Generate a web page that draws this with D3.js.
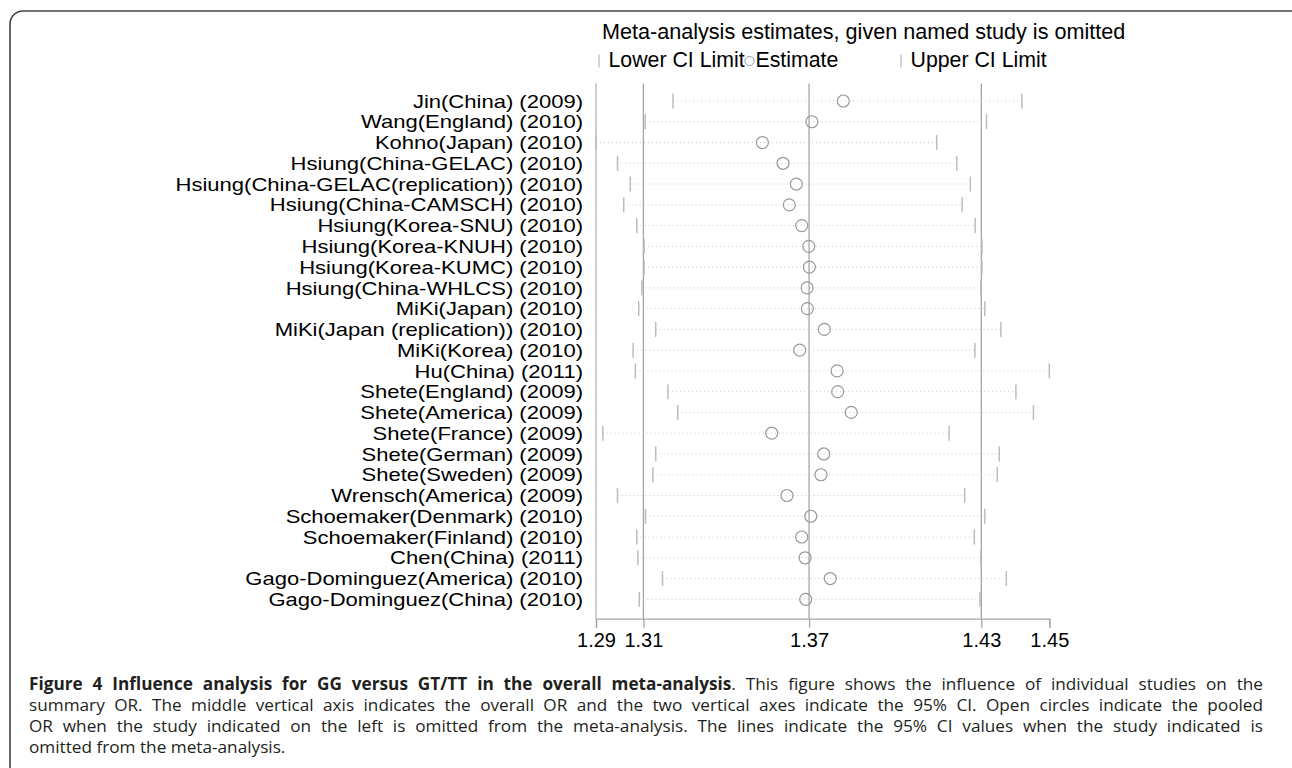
<!DOCTYPE html>
<html>
<head>
<meta charset="utf-8">
<script src="https://cdn.jsdelivr.net/npm/d3@7"></script>
<style>
body { margin: 0; background: #fff; }
svg { display: block; }
</style>
</head>
<body>
<script>
// DATA
const studies = [
	"Jin(China) (2009)",
	"Wang(England) (2010)",
	"Kohno(Japan) (2010)",
	"Hsiung(China-GELAC) (2010)",
	"Hsiung(China-GELAC(replication)) (2010)",
	"Hsiung(China-CAMSCH) (2010)",
	"Hsiung(Korea-SNU) (2010)",
	"Hsiung(Korea-KNUH) (2010)",
	"Hsiung(Korea-KUMC) (2010)",
	"Hsiung(China-WHLCS) (2010)",
	"MiKi(Japan) (2010)",
	"MiKi(Japan (replication)) (2010)",
	"MiKi(Korea) (2010)",
	"Hu(China) (2011)",
	"Shete(England) (2009)",
	"Shete(America) (2009)",
	"Shete(France) (2009)",
	"Shete(German) (2009)",
	"Shete(Sweden) (2009)",
	"Wrensch(America) (2009)",
	"Schoemaker(Denmark) (2010)",
	"Schoemaker(Finland) (2010)",
	"Chen(China) (2011)",
	"Gago-Dominguez(America) (2010)",
	"Gago-Dominguez(China) (2010)"
];
const lower = [1.3219, 1.3121, 1.2947, 1.3023, 1.3068, 1.3045, 1.3091, 1.3117, 1.3117, 1.3109,
	1.3098, 1.3158, 1.3078, 1.3086, 1.3201, 1.3236, 1.2971, 1.3158, 1.3148, 1.3023,
	1.3122, 1.3091, 1.3095, 1.3182, 1.3100];
const estimate = [1.3821, 1.3710, 1.3535, 1.3608, 1.3655, 1.3630, 1.3674, 1.3699, 1.3701, 1.3693,
	1.3694, 1.3754, 1.3667, 1.3799, 1.3801, 1.3849, 1.3568, 1.3752, 1.3742, 1.3622,
	1.3706, 1.3674, 1.3686, 1.3775, 1.3688];
const upper = [1.4452, 1.4327, 1.4151, 1.4222, 1.4270, 1.4241, 1.4287, 1.4311, 1.4311, 1.4307,
	1.4321, 1.4378, 1.4286, 1.4549, 1.4431, 1.4493, 1.4195, 1.4372, 1.4365, 1.4250,
	1.4321, 1.4284, 1.4307, 1.4397, 1.4304];

// overall OR with its 95% CI
const pooled = [1.31145, 1.37, 1.43088];
const tickValues = [1.2947, 1.31145, 1.37, 1.43088, 1.4549];

const title = "Meta-analysis estimates, given named study is omitted";
const legendLabels = ["Lower CI Limit", "Estimate", "Upper CI Limit"];

const captionLines = [
	[{ t: "Figure 4 Influence analysis for GG versus GT/TT in the overall meta-analysis", bold: true },
	 { t: ". This figure shows the influence of individual studies on the" }],
	[{ t: "summary OR. The middle vertical axis indicates the overall OR and the two vertical axes indicate the 95% CI. Open circles indicate the pooled" }],
	[{ t: "OR when the study indicated on the left is omitted from the meta-analysis. The lines indicate the 95% CI values when the study indicated is" }],
	[{ t: "omitted from the meta-analysis." }]
];

// SETUP
const width = 1292, height = 768;
const stataFont = "'Liberation Sans', Arial, Helvetica, sans-serif";

var svg = d3.select('body').append('svg')
	.attr('width', width)
	.attr('height', height);

// frame with rounded corner
svg.append('path')
	.attr('d', 'M10,775V24A13,13 0 0 1 23,11H1300')
	.attr('fill', 'none')
	.attr('stroke', '#444')
	.attr('stroke-width', 1.6);

var plotTop = 83.5, plotBottom = 618.7;

var x = d3.scaleLinear()
	.domain(d3.extent(lower.concat(upper)))
	.range([596, 1049.3]);

var y = d3.scalePoint()
	.domain(studies)
	.range([101, 599.3]);

var rows = studies.map((s, i) => ({ study: s, lo: lower[i], est: estimate[i], hi: upper[i] }));

// left axis line
svg.append('line')
	.attr('x1', x.range()[0]).attr('x2', x.range()[0])
	.attr('y1', plotTop).attr('y2', plotBottom)
	.attr('stroke', '#b4b4b4')
	.attr('stroke-width', 1.3);

// reference lines: pooled CI and estimate
svg.append('g').selectAll('line')
	.data(pooled)
	.join('line')
	.attr('x1', d => x(d)).attr('x2', d => x(d))
	.attr('y1', plotTop).attr('y2', plotBottom)
	.attr('stroke', '#a6a6a6')
	.attr('stroke-width', 1.3);

// x axis
var axis = svg.append('g')
	.attr('transform', `translate(0,${plotBottom})`)
	.call(d3.axisBottom(x)
		.tickValues(tickValues)
		.tickFormat(d3.format('.2f'))
		.tickSize(9)
		.tickPadding(5));

axis.select('.domain').attr('stroke', '#a6a6a6').attr('stroke-width', 1.3);
axis.selectAll('.tick line').attr('stroke', '#a6a6a6').attr('stroke-width', 1.3);
axis.selectAll('.tick text')
	.attr('fill', '#000')
	.style('font-family', stataFont)
	.style('font-size', '20px');

// dotted CI lines
var marks = svg.append('g');

marks.selectAll('.ci')
	.data(rows)
	.join('line')
	.attr('class', 'ci')
	.attr('x1', d => x(d.lo)).attr('x2', d => x(d.hi))
	.attr('y1', d => y(d.study)).attr('y2', d => y(d.study))
	.attr('stroke', '#c6c6c6')
	.attr('stroke-width', 1)
	.attr('stroke-dasharray', '1,3');

// CI limit ticks
['lo', 'hi'].forEach(key => {
	marks.selectAll('.tick-' + key)
		.data(rows)
		.join('line')
		.attr('class', 'tick-' + key)
		.attr('x1', d => x(d[key])).attr('x2', d => x(d[key]))
		.attr('y1', d => y(d.study) - 7.5).attr('y2', d => y(d.study) + 7.5)
		.attr('stroke', '#bdbdbd')
		.attr('stroke-width', 1.5);
});

// estimates
marks.selectAll('circle')
	.data(rows)
	.join('circle')
	.attr('cx', d => x(d.est))
	.attr('cy', d => y(d.study))
	.attr('r', 6)
	.attr('fill', 'none')
	.attr('stroke', '#9a9a9a')
	.attr('stroke-width', 1.2);

// study labels (the original export is stretched sideways a little)
var labelStretch = 1.19;
svg.append('g').selectAll('text')
	.data(studies)
	.join('text')
	.attr('x', 583)
	.attr('y', d => y(d))
	.attr('dy', '0.36em')
	.attr('text-anchor', 'end')
	.style('font-family', stataFont)
	.style('font-size', '18.5px')
	.text(d => d)
	.each(function() {
		let w = this.getComputedTextLength();
		d3.select(this)
			.attr('textLength', w * labelStretch)
			.attr('lengthAdjust', 'spacingAndGlyphs');
	});

// title
svg.append('text')
	.attr('x', 602)
	.attr('y', 39)
	.style('font-family', stataFont)
	.style('font-size', '21.6px')
	.text(title);

// legend
var legendX = [599, 749.5, 901];
var legend = svg.append('g').selectAll('g')
	.data(legendLabels)
	.join('g')
	.attr('transform', (d, i) => `translate(${legendX[i]},61)`);

legend.each(function(d, i) {
	let g = d3.select(this);
	if (i == 1) {
		g.append('circle')
			.attr('r', 4.6)
			.attr('fill', 'none')
			.attr('stroke', '#9a9a9a')
			.attr('stroke-width', 1);
	} else {
		g.append('line')
			.attr('y1', -6.5).attr('y2', 6.5)
			.attr('stroke', '#bdbdbd')
			.attr('stroke-width', 1.3);
	}
	g.append('text')
		.attr('x', i == 1 ? 6 : 9.5)
		.attr('y', 6)
		.style('font-family', stataFont)
		.style('font-size', '21.3px')
		.text(d);
});

// caption, justified line by line
var captionLeft = 29, captionRight = 1263;
var captionY = [689.5, 710.5, 731.5, 752.5];

captionLines.forEach((parts, i) => {
	let text = svg.append('text')
		.attr('x', captionLeft)
		.attr('y', captionY[i])
		.attr('fill', '#231f20')
		.style('font-family', "'Open Sans', 'Noto Sans', sans-serif")
		.style('font-size', '17.2px');
	parts.forEach(p => {
		text.append('tspan')
			.style('font-weight', p.bold ? 700 : 400)
			.text(p.t);
	});
	if (i < captionLines.length - 1) {
		let full = parts.map(p => p.t).join('');
		let spaces = full.split(' ').length - 1;
		let natural = text.node().getComputedTextLength();
		text.attr('word-spacing', (captionRight - captionLeft - natural) / spaces);
	}
});
</script>
</body>
</html>
